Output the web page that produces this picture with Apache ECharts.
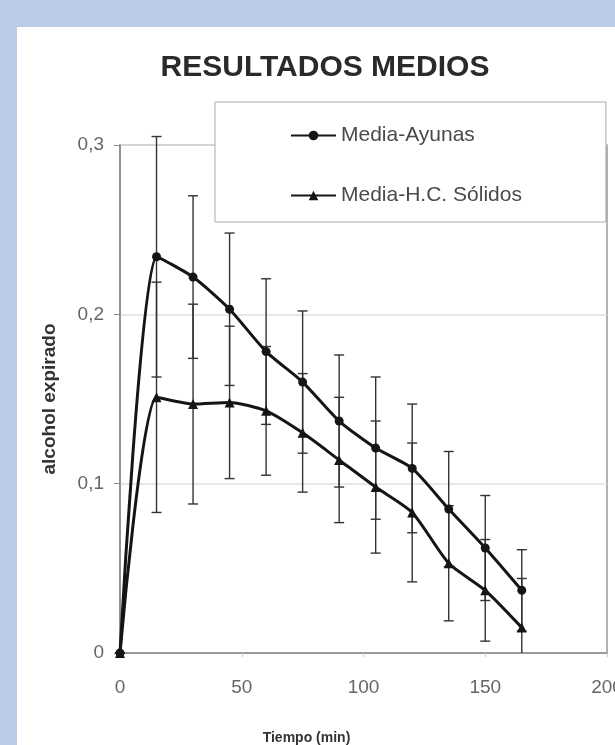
<!DOCTYPE html>
<html>
<head>
<meta charset="utf-8">
<script src="https://cdn.jsdelivr.net/npm/echarts@6/dist/echarts.min.js"></script>
<style>
  html, body { margin: 0; padding: 0; background: #fff; }
  #chart { width: 615px; height: 745px; }
</style>
</head>
<body>
<div id="chart"></div>
<script>
// tiempo (min)
var tiempo = [0, 15, 30, 45, 60, 75, 90, 105, 120, 135, 150, 165];
// media ayunas + desviacion
var ayunas = [0, 0.234, 0.222, 0.203, 0.178, 0.160, 0.137, 0.121, 0.109, 0.085, 0.062, 0.037];
var ayunasErr = [0, 0.071, 0.048, 0.045, 0.043, 0.042, 0.039, 0.042, 0.038, 0.034, 0.031, 0.024];
// media H.C. solidos + desviacion
var solidos = [0, 0.151, 0.147, 0.148, 0.143, 0.130, 0.114, 0.098, 0.083, 0.053, 0.037, 0.015];
var solidosErr = [0, 0.068, 0.059, 0.045, 0.038, 0.035, 0.037, 0.039, 0.041, 0.034, 0.030, 0.029];
var yTicks = ['0', '0,1', '0,2', '0,3'];

function pares(ys) {
  return tiempo.map(function (t, i) { return [t, ys[i]]; });
}
function barras(ys, err) {
  return tiempo.map(function (t, i) { return [t, ys[i] - err[i], ys[i] + err[i]]; });
}

function renderBarra(params, api) {
  var x = api.value(0);
  var lo = api.coord([x, api.value(1)]);
  var hi = api.coord([x, api.value(2)]);
  var fondo = params.coordSys.y + params.coordSys.height;
  var w = 5;
  var st = { stroke: '#333', lineWidth: 1.4 };
  var hijos = [
    { type: 'line', shape: { x1: hi[0], y1: hi[1], x2: lo[0], y2: Math.min(lo[1], fondo) }, style: st },
    { type: 'line', shape: { x1: hi[0] - w, y1: hi[1], x2: hi[0] + w, y2: hi[1] }, style: st }
  ];
  if (lo[1] <= fondo) {
    hijos.push({ type: 'line', shape: { x1: lo[0] - w, y1: lo[1], x2: lo[0] + w, y2: lo[1] }, style: st });
  }
  return { type: 'group', children: hijos };
}

var chart = echarts.init(document.getElementById('chart'));
chart.setOption({
  backgroundColor: '#ffffff',
  animation: false,
  graphic: [
    { type: 'rect', left: 0, top: 0, shape: { width: 615, height: 27 }, style: { fill: '#bccbe6' }, z: 0 },
    { type: 'rect', left: 0, top: 0, shape: { width: 17, height: 745 }, style: { fill: '#bccbe6' }, z: 0 }
  ],
  title: {
    text: 'RESULTADOS MEDIOS',
    left: 320,
    textAlign: 'center',
    top: 48,
    textStyle: { fontFamily: 'Liberation Sans', fontSize: 30, fontWeight: 'bold', color: '#2a2a2a' }
  },
  legend: {
    orient: 'vertical',
    left: 215,
    top: 102,
    padding: [23, 84, 16, 75],
    itemGap: 39,
    itemWidth: 45,
    itemHeight: 12,
    backgroundColor: '#ffffff',
    borderColor: '#aaaaaa',
    borderWidth: 1,
    textStyle: { fontFamily: 'Liberation Sans', fontSize: 21, color: '#4a4a4a' },
    data: ['Media-Ayunas', 'Media-H.C. Sólidos']
  },
  grid: {
    left: 120,
    right: 8,
    top: 145,
    bottom: 92,
    outerBoundsMode: 'none',
    show: true,
    borderColor: '#999',
    borderWidth: 1.5
  },
  xAxis: {
    type: 'value',
    min: 0,
    max: 200,
    interval: 50,
    name: 'Tiempo (min)',
    nameLocation: 'middle',
    nameGap: 78,
    nameTextStyle: {
      fontFamily: 'Liberation Sans', fontSize: 14, fontWeight: 'bold', color: '#333',
      padding: [0, 114, 0, 0]
    },
    axisLine: { lineStyle: { color: '#999', width: 2 } },
    axisTick: { show: true, length: 4, lineStyle: { color: '#ccc' } },
    axisLabel: { fontFamily: 'Liberation Sans', fontSize: 19, color: '#666', margin: 25 },
    splitLine: { show: false }
  },
  yAxis: {
    type: 'value',
    min: 0,
    max: 0.3,
    interval: 0.1,
    name: 'alcohol expirado',
    nameLocation: 'middle',
    nameGap: 61,
    nameTextStyle: { fontFamily: 'Liberation Sans', fontSize: 19, fontWeight: 'bold', color: '#333' },
    axisLine: { show: true, lineStyle: { color: '#888', width: 1.5 } },
    axisTick: { show: true, length: 6, lineStyle: { color: '#888' } },
    axisLabel: {
      fontFamily: 'Liberation Sans', fontSize: 19, color: '#666', margin: 16,
      formatter: function (v) { return yTicks[Math.round(v * 10)]; }
    },
    splitLine: { show: true, lineStyle: { color: '#e0e0e0', width: 1.5 } }
  },
  series: [
    {
      name: 'Media-Ayunas',
      type: 'line',
      data: pares(ayunas),
      smooth: 0.22,
      symbol: 'circle',
      symbolSize: 9,
      itemStyle: { color: '#151515' },
      lineStyle: { color: '#151515', width: 3 },
      z: 5
    },
    {
      name: 'Media-H.C. Sólidos',
      type: 'line',
      data: pares(solidos),
      smooth: 0.22,
      symbol: 'triangle',
      symbolSize: 10,
      itemStyle: { color: '#151515' },
      lineStyle: { color: '#151515', width: 3 },
      z: 5
    },
    {
      type: 'custom',
      data: barras(ayunas, ayunasErr),
      renderItem: renderBarra,
      encode: { x: 0, y: [1, 2] },
      z: 3
    },
    {
      type: 'custom',
      data: barras(solidos, solidosErr),
      renderItem: renderBarra,
      encode: { x: 0, y: [1, 2] },
      z: 3
    }
  ]
});
</script>
</body>
</html>
